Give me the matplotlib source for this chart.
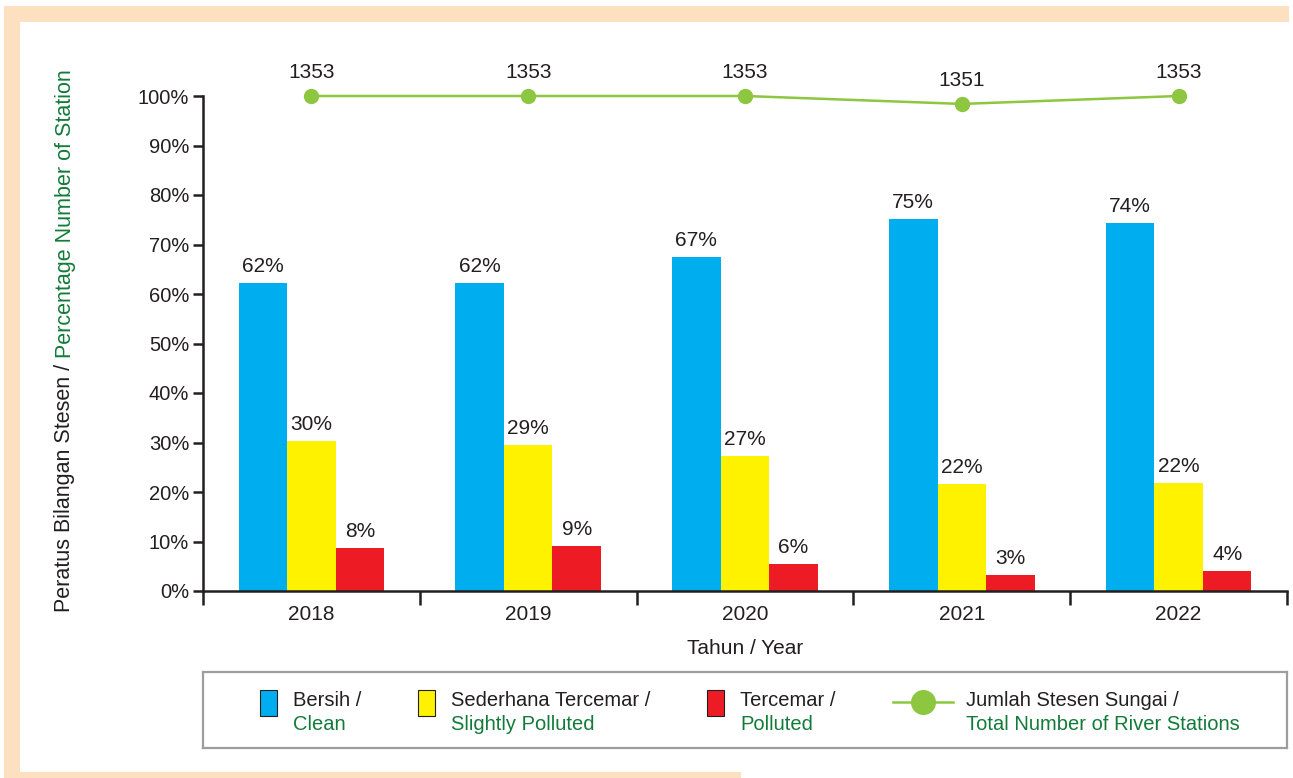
import matplotlib.pyplot as plt
import matplotlib.patches as mpatches
from matplotlib.lines import Line2D

plt.rcParams['font.family'] = ['Liberation Sans', 'DejaVu Sans']

# data
years = ['2018', '2019', '2020', '2021', '2022']
clean = [62.2, 62.2, 67.5, 75.2, 74.3]
slight = [30.3, 29.5, 27.3, 21.6, 21.8]
polluted = [8.7, 9.1, 5.5, 3.2, 4.0]
clean_lbl = ['62%', '62%', '67%', '75%', '74%']
slight_lbl = ['30%', '29%', '27%', '22%', '22%']
polluted_lbl = ['8%', '9%', '6%', '3%', '4%']
stations = [1353, 1353, 1353, 1351, 1353]
station_pos = [100, 100, 100, 98.4, 100]

BLUE = '#00aeef'
YELLOW = '#fff200'
RED = '#ed1c24'
LGREEN = '#8dc63f'
DGREEN = '#137b3a'
PEACH = '#fde0c0'
DARK = '#231f20'

W, H = 1293, 778
fig = plt.figure(figsize=(W / 100, H / 100), dpi=100)


def px(x0, y0, x1, y1):
    # image pixel box -> figure fraction rect
    return [x0 / W, 1 - y1 / H, (x1 - x0) / W, (y1 - y0) / H]


# peach frame
for box in [(4, 6, 1289, 22), (4, 6, 20, 778), (4, 772, 741, 778)]:
    r = px(*box)
    fig.patches.append(mpatches.Rectangle((r[0], r[1]), r[2], r[3], transform=fig.transFigure,
                                          facecolor=PEACH, edgecolor='none', zorder=0))

ax = fig.add_axes(px(203, 96, 1287, 591))
x = list(range(len(years)))
bw = 0.224
b1 = ax.bar([i - bw for i in x], clean, bw, color=BLUE, zorder=2)
b2 = ax.bar(x, slight, bw, color=YELLOW, zorder=2)
b3 = ax.bar([i + bw for i in x], polluted, bw, color=RED, zorder=2)
for bars, lbls in [(b1, clean_lbl), (b2, slight_lbl), (b3, polluted_lbl)]:
    for b, t in zip(bars, lbls):
        ax.annotate(t, (b.get_x() + b.get_width() / 2, b.get_height()), xytext=(0, 5),
                    textcoords='offset points', ha='center', va='bottom', fontsize=15, color=DARK)

ax.plot(x, station_pos, color=LGREEN, lw=1.8, marker='o', ms=10, clip_on=False, zorder=3)
for i, (v, n) in enumerate(zip(station_pos, stations)):
    ax.annotate(str(n), (i, v), xytext=(0, 10), textcoords='offset points',
                ha='center', va='bottom', fontsize=15, color=DARK)

ax.set_xlim(-0.5, len(years) - 0.5)
ax.set_ylim(0, 100)
ax.set_yticks(range(0, 101, 10))
ax.set_yticklabels([f'{v}%' for v in range(0, 101, 10)], fontsize=14.5, color=DARK)
ax.set_xticks([i - 0.5 for i in range(len(years) + 1)])
ax.set_xticklabels([])
ax.set_xticks(x, minor=True)
ax.set_xticklabels(years, minor=True, fontsize=15, color=DARK)
ax.tick_params(axis='x', which='major', length=10, width=1.8, color=DARK, direction='out')
ax.tick_params(axis='x', which='minor', length=0, pad=10)
ax.tick_params(axis='y', length=7, width=1.8, color=DARK, pad=3)
for s in ['top', 'right']:
    ax.spines[s].set_visible(False)
for s in ['left', 'bottom']:
    ax.spines[s].set_linewidth(1.8)
    ax.spines[s].set_color(DARK)
ax.set_xlabel('Tahun / Year', fontsize=15, color=DARK, labelpad=11)

# two-colour y label
yl = 1 - 358 / H
fig.text(65 / W, yl, 'Peratus Bilangan Stesen / ', rotation=90, rotation_mode='anchor',
         ha='right', va='center', fontsize=15.5, color=DARK)
fig.text(65 / W, yl, 'Percentage Number of Station', rotation=90, rotation_mode='anchor',
         ha='left', va='center', fontsize=15.5, color=DGREEN)

# legend box
lax = fig.add_axes(px(203, 672, 1287, 748))
lax.set_xlim(203, 1287)
lax.set_ylim(748, 672)
lax.set_xticks([])
lax.set_yticks([])
for s in lax.spines.values():
    s.set_color('#9d9d9f')
    s.set_linewidth(1.6)

entries = [(BLUE, 260, 'Bersih /', 'Clean'),
           (YELLOW, 418, 'Sederhana Tercemar /', 'Slightly Polluted'),
           (RED, 707, 'Tercemar /', 'Polluted')]
for col, x0, t1, t2 in entries:
    lax.add_patch(mpatches.Rectangle((x0, 690), 17, 26, facecolor=col, edgecolor=DARK, lw=0.8))
    lax.text(x0 + 33, 700, t1, fontsize=14.5, color=DARK, va='center')
    lax.text(x0 + 33, 724, t2, fontsize=14.5, color=DGREEN, va='center')
lax.add_line(Line2D([893, 953], [702, 702], color=LGREEN, lw=1.8))
lax.plot([923], [702], marker='o', ms=17, color=LGREEN)
lax.text(966, 700, 'Jumlah Stesen Sungai /', fontsize=14.5, color=DARK, va='center')
lax.text(966, 724, 'Total Number of River Stations', fontsize=14.5, color=DGREEN, va='center')

fig.savefig('out.png', dpi=100)
